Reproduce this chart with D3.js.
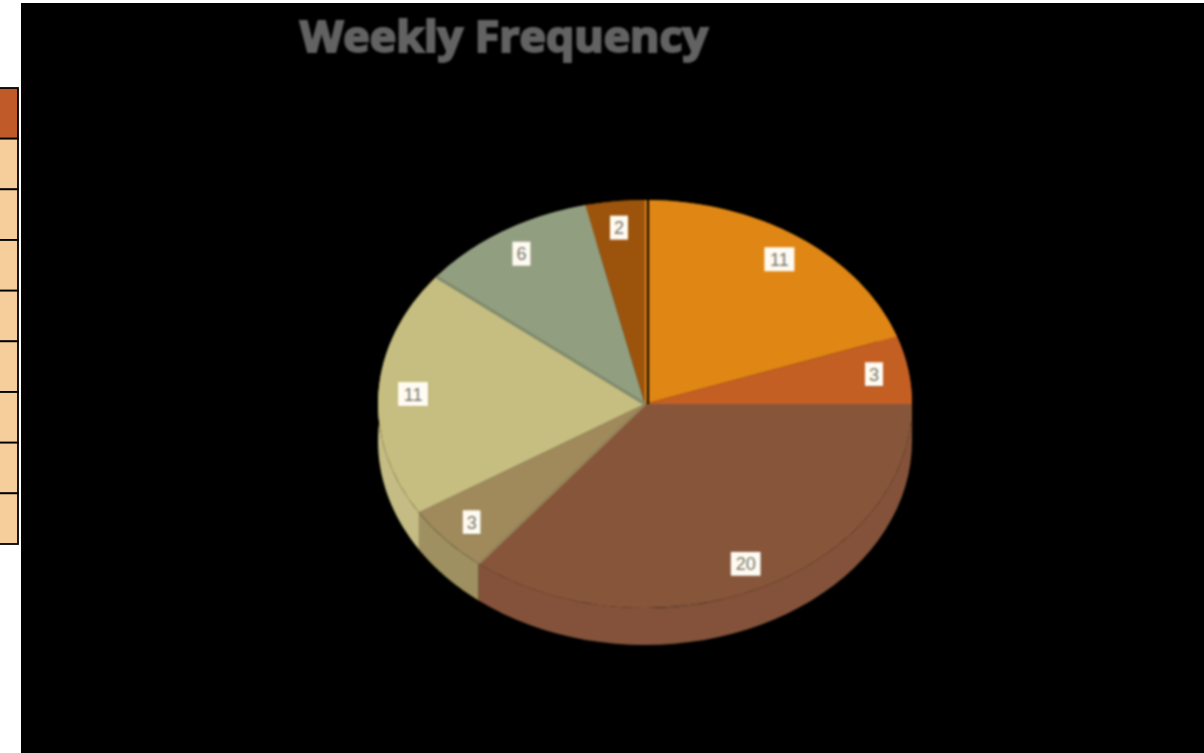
<!DOCTYPE html>
<html><head><meta charset="utf-8">
<script src="https://cdn.jsdelivr.net/npm/d3@7"></script>
<style>html,body{margin:0;padding:0;background:#fff;overflow:hidden}</style>
</head><body><svg id="c" width="1204" height="753"></svg>
<script>
const title = "Weekly Frequency";
const values = [11, 3, 20, 3, 11, 6, 2];
const topColors = ["#E08614", "#C45F24", "#87563A", "#A08A5C", "#C6BD80", "#929E80", "#9C540C"];
const sideColors = ["#C87810", "#BE5C22", "#84523A", "#9E9060", "#C4BC84", "#85907A", "#8C4B0A"];
const tableRows = ["header", "r1", "r2", "r3", "r4", "r5", "r6", "r7", "r8"];

const W = 1204, H = 753;
const cx = 645, cy = 404, rx = 267, ry = 204, depth = 37;
const svg = d3.select("#c");

svg.append("rect").attr("width", W).attr("height", H).attr("fill", "#fff");
svg.append("rect").attr("x", 21).attr("y", 3).attr("width", W - 21).attr("height", H - 3).attr("fill", "#000");

const rowScale = d3.scaleBand().domain(tableRows).range([88, 544]);
svg.append("g").selectAll("rect").data(tableRows).join("rect")
  .attr("x", -3).attr("y", d => rowScale(d)).attr("width", 21).attr("height", rowScale.bandwidth())
  .attr("fill", (d, i) => i === 0 ? "#C05A28" : "#F5CE9C")
  .attr("stroke", "#000").attr("stroke-width", 1.8);

const chart = svg.append("g").style("filter", "blur(1px)");

chart.append("text").attr("x", 504).attr("y", 52).attr("text-anchor", "middle")
  .attr("font-family", "'Open Sans', sans-serif").attr("font-weight", 700).attr("font-size", 43)
  .attr("textLength", 408).attr("lengthAdjust", "spacingAndGlyphs")
  .attr("fill", "#626262").attr("stroke", "#626262").attr("stroke-width", 2).text(title);

const pie = d3.pie().sort(null).value(d => d);
const arcs = pie(values);
const px = a => cx + rx * Math.sin(a);
const py = a => cy - ry * Math.cos(a);

const rim = d3.area().x(a => px(a)).y0(a => py(a)).y1(a => py(a) + depth);
chart.append("g").selectAll("path").data(arcs).join("path")
  .attr("d", d => {
    const n = 40, st = (d.endAngle - d.startAngle) / n;
    return rim(d3.range(n + 1).map(i => d.startAngle + i * st));
  })
  .attr("fill", (d, i) => sideColors[i]);

const arcGen = d3.arc().innerRadius(0).outerRadius(rx);
chart.append("g").attr("transform", `translate(${cx},${cy}) scale(1,${ry / rx})`)
  .selectAll("path").data(arcs).join("path")
  .attr("d", arcGen).attr("fill", (d, i) => topColors[i]);

// soft shading along the boundary of the grey slice and of the tan slice
chart.append("line").attr("x1", px(arcs[5].startAngle)).attr("y1", py(arcs[5].startAngle))
  .attr("x2", cx).attr("y2", cy).attr("stroke", "#7E8A6C").attr("stroke-width", 3);
chart.append("line").attr("x1", px(arcs[3].startAngle)).attr("y1", py(arcs[3].startAngle))
  .attr("x2", cx).attr("y2", cy).attr("stroke", "#96845A").attr("stroke-width", 3);

const s0 = arcs[0].startAngle;
chart.append("line").attr("x1", px(s0) + 3).attr("y1", py(s0)).attr("x2", cx + 3).attr("y2", cy)
  .attr("stroke", "#000").attr("stroke-width", 2);

const labels = chart.append("g").selectAll("g").data(arcs).join("g")
  .attr("transform", d => {
    const m = (d.startAngle + d.endAngle) / 2;
    return `translate(${cx + 0.87 * rx * Math.sin(m)},${cy - 0.87 * ry * Math.cos(m)})`;
  });
labels.append("rect")
  .attr("x", d => d.value >= 10 ? -15 : -9).attr("y", -12)
  .attr("width", d => d.value >= 10 ? 30 : 18).attr("height", 24).attr("fill", "#FFFBF2");
labels.append("text").attr("text-anchor", "middle").attr("dy", "0.36em")
  .attr("font-family", "'Liberation Sans', sans-serif").attr("font-size", 18)
  .attr("fill", "#7a7a6c").text(d => d.value);
</script></body></html>
